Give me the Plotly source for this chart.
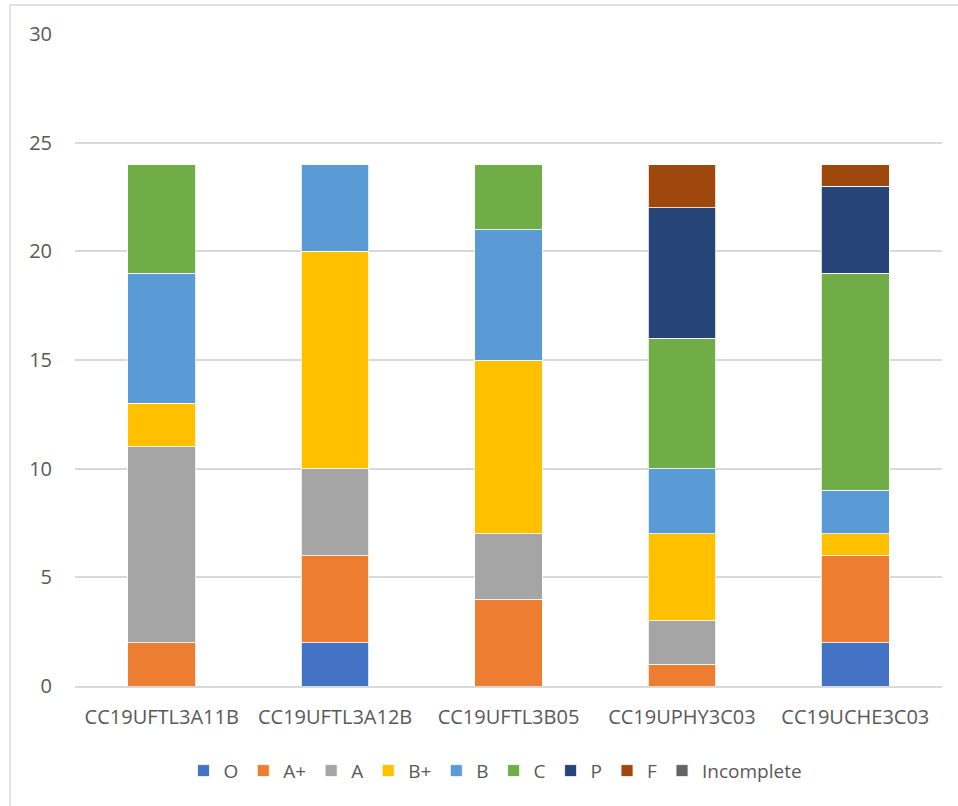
import plotly.graph_objects as go

categories = ["CC19UFTL3A11B", "CC19UFTL3A12B", "CC19UFTL3B05", "CC19UPHY3C03", "CC19UCHE3C03"]
grade_O = [0, 2, 0, 0, 2]
grade_Aplus = [2, 4, 4, 1, 4]
grade_A = [9, 4, 3, 2, 0]
grade_Bplus = [2, 10, 8, 4, 1]
grade_B = [6, 4, 6, 3, 2]
grade_C = [5, 0, 3, 6, 10]
grade_P = [0, 0, 0, 6, 4]
grade_F = [0, 0, 0, 2, 1]
grade_Incomplete = [0, 0, 0, 0, 0]

series = [
    ("O", grade_O, "#4472C4"),
    ("A+", grade_Aplus, "#ED7D31"),
    ("A", grade_A, "#A5A5A5"),
    ("B+", grade_Bplus, "#FFC000"),
    ("B", grade_B, "#5B9BD5"),
    ("C", grade_C, "#70AD47"),
    ("P", grade_P, "#264478"),
    ("F", grade_F, "#9E480E"),
    ("Incomplete", grade_Incomplete, "#636363"),
]

fig = go.Figure()
for name, vals, color in series:
    fig.add_trace(go.Bar(
        name=name, x=categories, y=vals,
        marker=dict(color=color, line=dict(color="white", width=0.8)),
    ))

font_family = "'Open Sans', 'Noto Sans', Arial, sans-serif"
fs = 20
fig.update_layout(
    barmode="stack",
    bargap=0.61,
    width=958, height=806,
    margin=dict(l=75, r=16, t=34, b=120),
    paper_bgcolor="white",
    plot_bgcolor="white",
    font=dict(family=font_family, size=fs, color="#595959"),
    legend=dict(
        orientation="h", x=0.485, xanchor="center", y=-0.13, yanchor="middle",
        font=dict(size=19, color="#595959"),
        itemwidth=30, traceorder="normal",
    ),
    xaxis=dict(showgrid=False, showline=True, linecolor="#d9d9d9", linewidth=1.5,
               ticks="", ticklabelstandoff=12, tickfont=dict(size=fs, color="#595959")),
    yaxis=dict(range=[0, 30], dtick=5, showgrid=True, gridcolor="#d9d9d9", gridwidth=1.5,
               zeroline=False, ticks="", ticklabelstandoff=22,
               tickfont=dict(size=fs, color="#595959")),
    shapes=[dict(type="rect", xref="paper", yref="paper", x0=-0.075, x1=1.03, y0=-0.2, y1=1.0445,
                 line=dict(color="#d9d9d9", width=1.5), fillcolor="rgba(0,0,0,0)", layer="below")],
)
fig.write_html("out.html", config={"displayModeBar": False},
               post_script="document.body.style.margin='0px';")
